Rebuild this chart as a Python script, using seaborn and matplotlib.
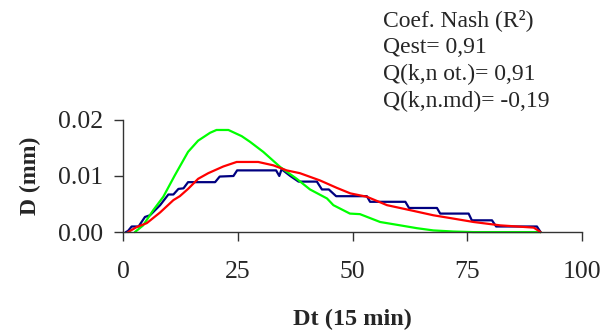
import numpy as np
import pandas as pd
import seaborn as sns
import matplotlib.pyplot as plt

# Dados (Dt em passos de 15 min, D em mm)
t_obs = [0.5, 1, 1.8, 3.3, 4.7, 5.8, 8, 9.8, 10.9, 12, 13.1, 14.1, 20, 21, 24, 24.8,
         33.3, 34, 34.5, 36.4, 38.2, 42.2, 43.3, 44.8, 46.4, 53.1, 53.8, 61.5, 62.3,
         68.4, 69.1, 75.3, 76, 80.4, 81.3, 90.2, 91]
d_obs = [0, 0.0002, 0.001, 0.001, 0.0027, 0.003, 0.0048, 0.0067, 0.0067, 0.0077, 0.0078,
         0.0089, 0.0089, 0.0099, 0.0100, 0.0110, 0.0110, 0.0100, 0.0112, 0.0100, 0.0090,
         0.0090, 0.0076, 0.0076, 0.0064, 0.0064, 0.0054, 0.0054, 0.0043, 0.0043, 0.0033,
         0.0033, 0.0021, 0.0021, 0.0010, 0.0010, 0]

t_ot = [1, 2.9, 5.1, 8, 10.9, 12.3, 14.1, 16.3, 18.5, 21.8, 24.7, 29.4, 32.7, 35.6,
        38.5, 42.9, 46.5, 49.5, 53.1, 57.5, 62.6, 67.6, 71.3, 76.4, 82.2, 89.5, 91]
d_ot = [0, 0.0009, 0.0016, 0.0035, 0.0057, 0.0064, 0.0077, 0.0095, 0.0105, 0.0117,
        0.0125, 0.0125, 0.0119, 0.0110, 0.0105, 0.0092, 0.0079, 0.0069, 0.0063, 0.0048,
        0.0039, 0.0030, 0.0025, 0.0018, 0.0012, 0.0008, 0]

t_md = [2.5, 4.3, 6.5, 8.7, 11.2, 14.1, 16.3, 18.9, 20.3, 22.9, 25.8, 27.6, 30.5, 34.2,
        37.8, 40.7, 44.4, 45.8, 49.4, 51.6, 56, 60.4, 64, 67.6, 72, 76.3, 91]
d_md = [0, 0.0012, 0.0039, 0.0063, 0.0101, 0.0143, 0.0163, 0.0177, 0.0182, 0.0182,
        0.0171, 0.0161, 0.0143, 0.0116, 0.0095, 0.0076, 0.0060, 0.0048, 0.0033, 0.0032,
        0.0018, 0.0012, 0.0007, 0.0003, 0.0001, 0, 0]

nash_txt = ["Coef. Nash (R²)", "Qest= 0,91", "Q(k,n ot.)= 0,91", "Q(k,n.md)= -0,19"]

sns.set_theme(style="white")
plt.rcParams['font.family'] = ['Liberation Serif', 'DejaVu Serif']

fig = plt.figure(figsize=(6.08, 3.33), dpi=100)
ax = fig.add_axes([0.203, 0.303, 0.754, 0.337])

sns.lineplot(x=t_obs, y=d_obs, ax=ax, color="#000080", lw=1.6, sort=False,
             estimator=None, clip_on=False)
sns.lineplot(x=t_md, y=d_md, ax=ax, color="#00FF00", lw=1.6, sort=False,
             estimator=None, clip_on=False)
sns.lineplot(x=t_ot, y=d_ot, ax=ax, color="#FF0000", lw=1.6, sort=False,
             estimator=None, clip_on=False)

ax.set_xlim(0, 100)
ax.set_ylim(0, 0.02)
ax.set_xticks([0, 25, 50, 75, 100])
ax.set_yticks([0, 0.01, 0.02])
ax.set_yticklabels(["0.00", "0.01", "0.02"])
ax.tick_params(axis="x", direction="out", length=6.5, width=1, pad=14,
               labelsize=18.5, color="#333333")
ax.tick_params(axis="y", direction="out", length=6.5, width=1, pad=8,
               labelsize=18.5, color="#333333")
ax.tick_params(bottom=True, left=True)

ax.set_xlabel("Dt (15 min)", fontsize=17.5, weight="bold", labelpad=19)
ax.set_ylabel("D (mm)", fontsize=17, weight="bold", labelpad=12)

sns.despine(ax=ax)
for s in ["left", "bottom"]:
    ax.spines[s].set_color("#333333")
    ax.spines[s].set_linewidth(1)

for i, txt in enumerate(nash_txt):
    fig.text(0.630, 0.922 - i * 0.081, txt, fontsize=17, va="baseline", ha="left")

fig.savefig("out.png", dpi=100)
